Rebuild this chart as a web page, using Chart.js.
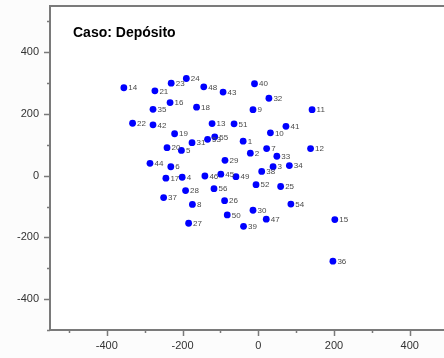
<!DOCTYPE html>
<html>
<head>
<meta charset="utf-8">
<script src="https://cdn.jsdelivr.net/npm/chart.js@4.4.1/dist/chart.umd.min.js"></script>
<style>
  html, body { margin: 0; padding: 0; background: #fcfcfc; }
  #wrap { width: 444px; height: 358px; overflow: hidden; }
</style>
</head>
<body>
<div id="wrap"><canvas id="chart" width="470" height="358"></canvas></div>
<script>
(function () {
    'use strict';

    // Data
    var pointIds = [
        '1', '2', '3', '4', '5', '6', '7', '8', '9', '10',
        '11', '12', '13', '14', '15', '16', '17', '18', '19', '20',
        '21', '22', '23', '24', '25', '26', '27', '28', '29', '30',
        '31', '32', '33', '34', '35', '36', '37', '38', '39', '40',
        '41', '42', '43', '44', '45', '46', '47', '48', '49', '50',
        '51', '52', '53', '54', '55', '56'
    ];
    var xVals = [
        -40, -21, 39, -201, -203, -231, 22, -174, -14, 32,
        142, 138, -122, -355, 202, -233, -244, -163, -221, -241,
        -273, -332, -230, -190, 59, -89, -184, -192, -88, -14,
        -175, 28, 49, 82, -278, 197, -250, 9, -39, -10,
        73, -278, -93, -286, -99, -141, 21, -144, -59, -82,
        -64, -6, -134, 86, -115, -117
    ];
    var yVals = [
        112, 73, 29, -5, 82, 29, 88, -93, 214, 139,
        214, 88, 169, 285, -142, 237, -8, 222, 136, 91,
        275, 170, 300, 315, -35, -81, -154, -48, 50, -112,
        107, 251, 63, 33, 215, -277, -71, 14, -164, 298,
        160, 165, 271, 40, 5, -1, -141, 288, -3, -127,
        168, -29, 118, -92, 126, -42
    ];

    // Axis ticks
    var xTicks = [-500, -400, -300, -200, -100, 0, 100, 200, 300, 400, 500];
    var yTicks = [-500, -400, -300, -200, -100, 0, 100, 200, 300, 400, 500];
    var labelStep = 200;
    var titleText = 'Caso: Depósito';

    var FONT = "'Liberation Sans', Arial, sans-serif";
    var AXIS_COLOR = '#7a7a7a';

    var points = [];
    for (var i = 0; i < xVals.length; i++) {
        points.push({ x: xVals[i], y: yVals[i] });
    }

    function setTicks(list) {
        return function (scale) {
            scale.ticks = list.map(function (v) { return { value: v }; });
        };
    }

    function tickLabel(v) {
        return v % labelStep === 0 ? String(v) : '';
    }

    // white plot area, top frame line, title, tick marks and point labels
    var decor = {
        id: 'decor',
        beforeDraw: function (chart) {
            var a = chart.chartArea, c = chart.ctx;
            c.save();
            c.fillStyle = '#ffffff';
            c.fillRect(a.left, a.top, a.right - a.left, a.bottom - a.top);
            c.restore();
        },
        afterDraw: function (chart) {
            var a = chart.chartArea, c = chart.ctx;
            var xs = chart.scales.x, ys = chart.scales.y;
            c.save();

            c.strokeStyle = AXIS_COLOR;
            c.lineWidth = 2;
            c.beginPath();
            c.moveTo(a.left, a.top);
            c.lineTo(a.right, a.top);
            c.stroke();

            c.lineWidth = 1.5;
            c.beginPath();
            xTicks.forEach(function (v) {
                var px = Math.round(xs.getPixelForValue(v)) + 0.5;
                var len = v % labelStep === 0 ? 6 : 3;
                c.moveTo(px, a.bottom);
                c.lineTo(px, a.bottom + len);
            });
            yTicks.forEach(function (v) {
                var py = Math.round(ys.getPixelForValue(v)) + 0.5;
                var len = v % labelStep === 0 ? 6 : 3;
                c.moveTo(a.left, py);
                c.lineTo(a.left - len, py);
            });
            c.stroke();

            c.fillStyle = '#000000';
            c.font = 'bold 14px ' + FONT;
            c.textBaseline = 'alphabetic';
            c.textAlign = 'left';
            c.fillText(titleText, a.left + 23, a.top + 31);

            var meta = chart.getDatasetMeta(0);
            c.fillStyle = '#4a4a4a';
            c.font = '8px ' + FONT;
            c.textBaseline = 'middle';
            meta.data.forEach(function (el, k) {
                c.fillText(pointIds[k], el.x + 4.5, el.y + 0.5);
            });
            c.restore();
        }
    };

    new Chart(document.getElementById('chart'), {
        type: 'scatter',
        data: {
            datasets: [{
                data: points,
                backgroundColor: '#0000ff',
                borderWidth: 0,
                pointRadius: 3.4,
                pointHoverRadius: 3.4
            }]
        },
        options: {
            responsive: false,
            animation: false,
            devicePixelRatio: 1,
            layout: { padding: { top: 6, right: 0, left: 0, bottom: 0 } },
            plugins: {
                legend: { display: false },
                tooltip: { enabled: false },
                title: { display: false }
            },
            scales: {
                x: {
                    type: 'linear',
                    min: -550,
                    max: 550,
                    afterBuildTicks: setTicks(xTicks),
                    afterFit: function (s) {
                        s.height = 28;
                        s.paddingLeft = 0;
                        s.paddingRight = 0;
                    },
                    grid: { drawOnChartArea: false, drawTicks: true, tickLength: 6, color: 'rgba(0,0,0,0)' },
                    border: { display: true, color: AXIS_COLOR, width: 2 },
                    ticks: {
                        autoSkip: false,
                        maxRotation: 0,
                        padding: 3,
                        color: '#333333',
                        font: { family: FONT, size: 11 },
                        callback: tickLabel
                    }
                },
                y: {
                    type: 'linear',
                    min: -500,
                    max: 550,
                    afterBuildTicks: setTicks(yTicks),
                    afterFit: function (s) {
                        s.width = 50;
                        s.paddingTop = 0;
                        s.paddingBottom = 0;
                    },
                    grid: { drawOnChartArea: false, drawTicks: true, tickLength: 6, color: 'rgba(0,0,0,0)' },
                    border: { display: true, color: AXIS_COLOR, width: 2 },
                    ticks: {
                        autoSkip: false,
                        padding: 5,
                        color: '#333333',
                        font: { family: FONT, size: 11 },
                        callback: tickLabel
                    }
                }
            }
        },
        plugins: [decor]
    });
}());
</script>
</body>
</html>
